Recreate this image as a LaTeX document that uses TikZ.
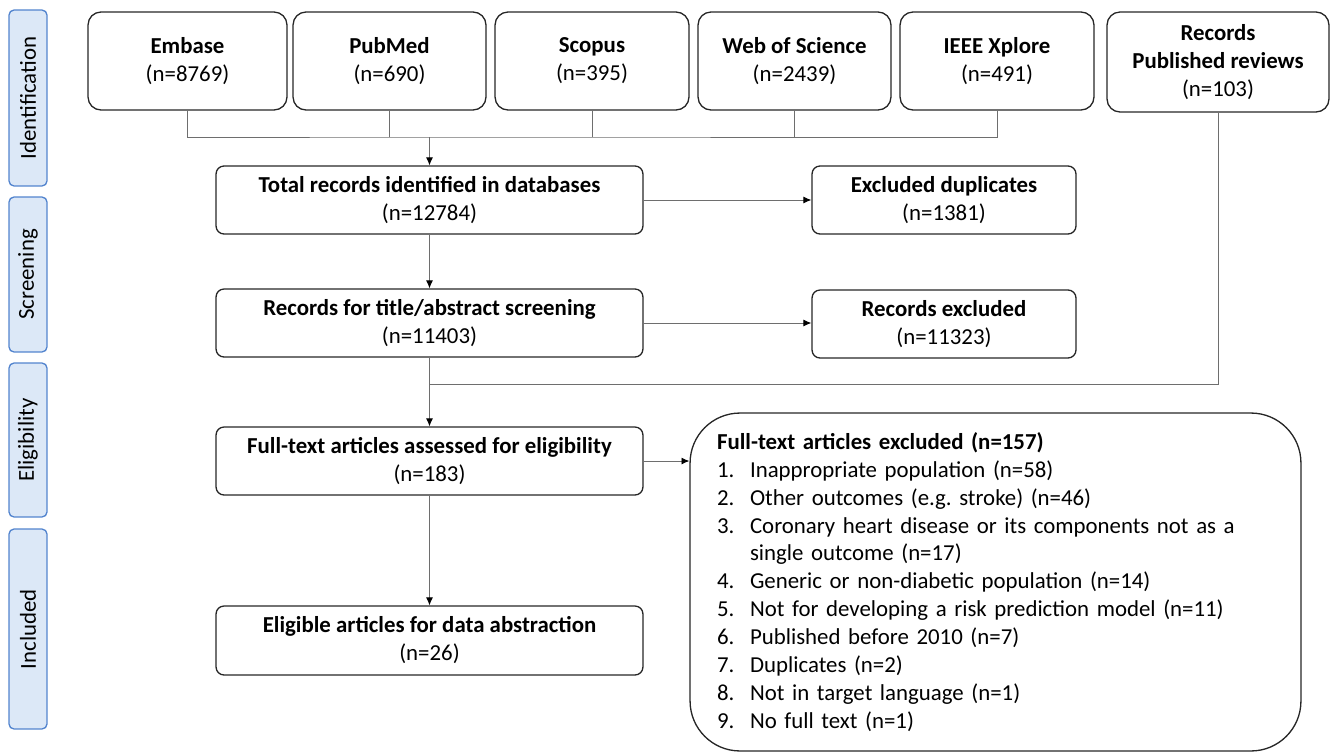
\documentclass[tikz,border=0pt]{standalone}
\usepackage{fontspec}
\setmainfont{Carlito}
\usetikzlibrary{arrows.meta,positioning}
\definecolor{stagefill}{RGB}{220,232,247}
\definecolor{stageline}{RGB}{82,132,206}
\definecolor{connline}{RGB}{110,110,110}
\newcommand{\exitem}[2]{\makebox[0.66cm][l]{#1}#2}
\frenchspacing

\begin{document}
\begin{tikzpicture}[x=0.02cm,y=-0.02cm,
    every node/.style={font=\fontsize{13}{15.9}\selectfont},
    box/.style={draw=black!85,line width=0.75pt,rounded corners=0.16cm,align=center,inner sep=0pt,minimum height=1.36cm,minimum width=8.54cm},
    src/.style={box,rounded corners=0.26cm,minimum height=1.96cm},
    stage/.style={draw=stageline,fill=stagefill,line width=0.75pt,rounded corners=0.1cm,rotate=90,minimum height=0.76cm,inner sep=0pt},
    link/.style={draw=connline,line width=0.55pt},
    arr/.style={link,-{Latex[length=4.5pt,width=4pt,color=black]}}]
    \useasboundingbox (0,0) rectangle (1331,754);

    % Stages
    \node[stage,minimum width=3.52cm] (ident) at (28,98) {Identification};
    \node[stage,minimum width=3.10cm] (screening) at (28,274.5) {Screening};
    \node[stage,minimum width=3.08cm] (elig) at (28,440) {Eligibility};
    \node[stage,minimum width=4.00cm] (incl) at (28,629) {Included};

    % Databases
    \node[src,minimum width=3.98cm] (embase) at (187.5,61) {\textbf{Embase}\\(n=8769)};
    \node[src,minimum width=3.86cm] (pubmed) at (389.5,61) {\textbf{PubMed}\\(n=690)};
    \node[src,minimum width=3.88cm] (scopus) at (592,61) {\textbf{Scopus}\\(n=395)};
    \node[src,minimum width=3.86cm] (wos) at (794.5,61) {\textbf{Web of Science}\\(n=2439)};
    \node[src,minimum width=3.88cm] (ieee) at (997,61) {\textbf{IEEE Xplore}\\(n=491)};
    \node[src,minimum width=4.44cm,minimum height=2.0cm] (reviews) at (1218,62) {\textbf{Records}\\\textbf{Published reviews}\\(n=103)};

    % Main flow
    \node[box] (total) at (429.5,200) {\textbf{Total records identified in databases}\\(n=12784)};
    \node[box,minimum width=5.28cm] (dups) at (944,200) {\textbf{Excluded duplicates}\\(n=1381)};
    \node[box] (screen) at (429.5,323) {\textbf{Records for title/abstract screening}\\(n=11403)};
    \node[box,minimum width=5.28cm] (recexcl) at (944,324) {\textbf{Records excluded}\\(n=11323)};
    \node[box] (fulltext) at (429.5,461) {\textbf{Full-text articles assessed for eligibility}\\(n=183)};
    \node[box,minimum height=1.38cm] (eligible) at (429.5,640.5) {\textbf{Eligible articles for data abstraction}\\(n=26)};

    \node[box,rounded corners=1cm,align=left,text width=11.14cm,inner xsep=0.54cm,minimum width=0pt,minimum height=6.76cm] (ftexcl) at (995.5,582) {%
      \textbf{Full-text articles excluded (n=157)}\\
      \exitem{1.}{Inappropriate population (n=58)}\\
      \exitem{2.}{Other outcomes (e.g. stroke) (n=46)}\\
      \exitem{3.}{Coronary heart disease or its components not as a}\\
      \hspace*{0.66cm}single outcome (n=17)\\
      \exitem{4.}{Generic or non-diabetic population (n=14)}\\
      \exitem{5.}{Not for developing a risk prediction model (n=11)}\\
      \exitem{6.}{Published before 2010 (n=7)}\\
      \exitem{7.}{Duplicates (n=2)}\\
      \exitem{8.}{Not in target language (n=1)}\\
      \exitem{9.}{No full text (n=1)}};

    % Connectors
    \coordinate (bus) at (429.5,137);
    \coordinate (join) at (429.5,384);
    \draw[link] (embase.south) |- (bus) -| (ieee.south);
    \draw[link] (pubmed.south) -- (pubmed.south |- bus);
    \draw[link] (scopus.south) -- (scopus.south |- bus);
    \draw[link] (wos.south) -- (wos.south |- bus);
    \draw[arr] (bus) -- (total.north);
    \draw[arr] (total.east) -- (dups.west);
    \draw[arr] (total.south) -- (screen.north);
    \draw[arr] (screen.east) -- (screen.east -| recexcl.west);
    \draw[link] (reviews.south) |- (join);
    \draw[arr] (screen.south) -- (fulltext.north);
    \draw[arr] (fulltext.east) -- (fulltext.east -| ftexcl.west);
    \draw[arr] (fulltext.south) -- (eligible.north);
\end{tikzpicture}
\end{document}
